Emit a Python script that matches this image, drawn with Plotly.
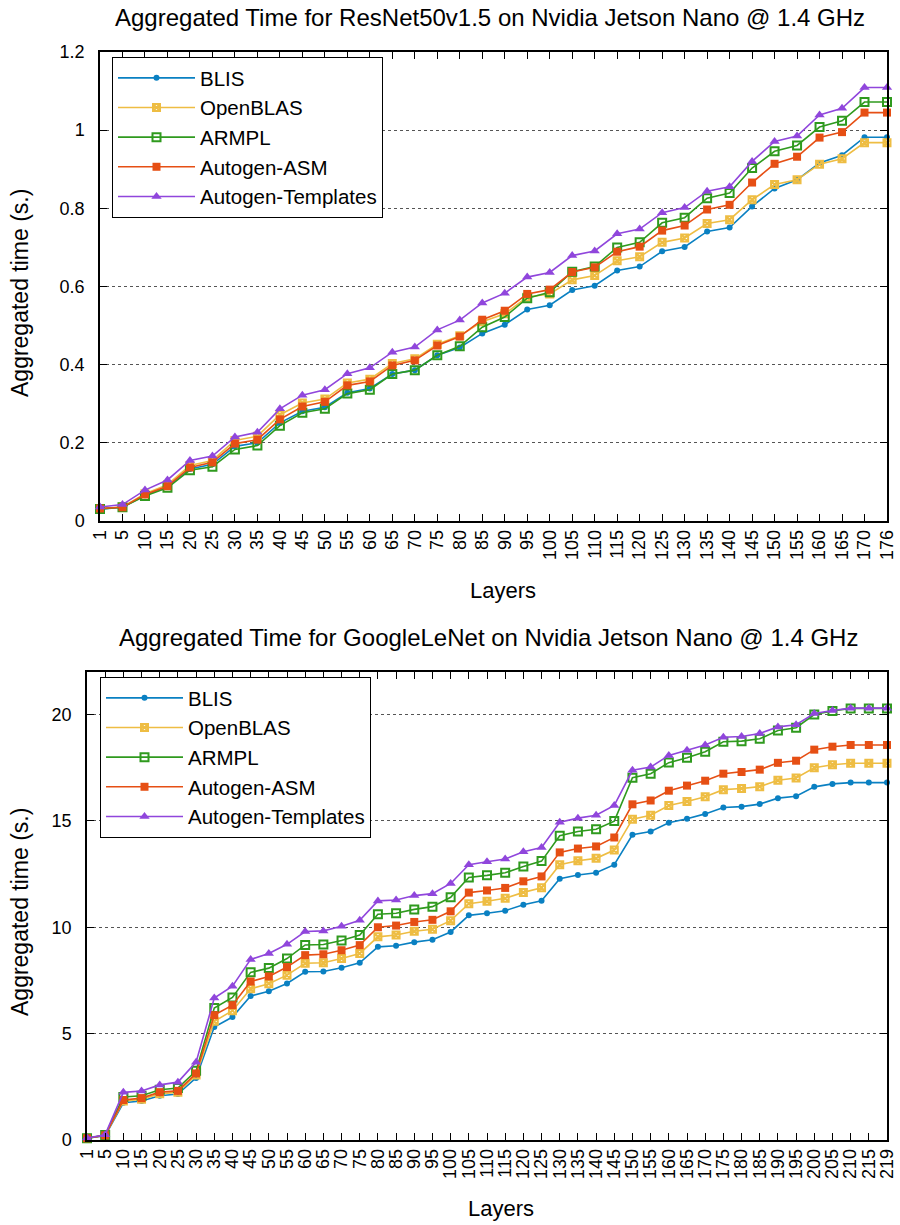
import plotly.graph_objects as go

# ---------------- data ----------------
resnet_layers = ["1"] + [str(v) for v in range(5, 171, 5)] + ["176"]
googlenet_layers = ["1"] + [str(v) for v in range(5, 216, 5)] + ["219"]

series_names = ["BLIS", "OpenBLAS", "ARMPL", "Autogen-ASM", "Autogen-Templates"]

resnet_blis = [0.030, 0.035, 0.066, 0.087, 0.133, 0.145, 0.191, 0.200, 0.251, 0.281, 0.291, 0.328,
               0.339, 0.376, 0.386, 0.424, 0.444, 0.480, 0.502, 0.541, 0.552, 0.591, 0.602, 0.641,
               0.651, 0.690, 0.701, 0.741, 0.751, 0.805, 0.851, 0.873, 0.916, 0.936, 0.982, 0.982]
resnet_openblas = [0.032, 0.036, 0.070, 0.093, 0.142, 0.155, 0.206, 0.217, 0.272, 0.302, 0.312, 0.353,
                   0.363, 0.403, 0.415, 0.452, 0.474, 0.510, 0.530, 0.573, 0.581, 0.617, 0.628, 0.666,
                   0.676, 0.713, 0.724, 0.761, 0.771, 0.822, 0.861, 0.873, 0.913, 0.927, 0.968, 0.968]
resnet_armpl = [0.031, 0.035, 0.064, 0.085, 0.130, 0.139, 0.183, 0.193, 0.244, 0.277, 0.287, 0.326,
                0.336, 0.376, 0.386, 0.424, 0.447, 0.496, 0.522, 0.570, 0.585, 0.638, 0.651, 0.700,
                0.713, 0.763, 0.776, 0.826, 0.839, 0.903, 0.946, 0.961, 1.008, 1.024, 1.072, 1.072]
resnet_asm = [0.032, 0.035, 0.068, 0.089, 0.137, 0.150, 0.198, 0.208, 0.260, 0.293, 0.305, 0.347,
              0.357, 0.398, 0.411, 0.449, 0.472, 0.515, 0.538, 0.581, 0.592, 0.637, 0.649, 0.689,
              0.702, 0.743, 0.756, 0.797, 0.809, 0.866, 0.914, 0.932, 0.981, 0.995, 1.045, 1.045]
resnet_templates = [0.036, 0.042, 0.079, 0.105, 0.155, 0.166, 0.215, 0.227, 0.287, 0.322, 0.336, 0.377,
                    0.392, 0.432, 0.445, 0.489, 0.514, 0.558, 0.583, 0.624, 0.636, 0.679, 0.691, 0.735,
                    0.747, 0.789, 0.802, 0.844, 0.855, 0.920, 0.971, 0.985, 1.039, 1.056, 1.109, 1.109]

googlenet_blis = [0.08, 0.20, 1.75, 1.83, 2.08, 2.16, 2.92, 5.31, 5.78, 6.77,
                  6.99, 7.36, 7.91, 7.92, 8.10, 8.33, 9.08, 9.13, 9.30, 9.41,
                  9.78, 10.56, 10.66, 10.78, 11.06, 11.25, 12.28, 12.46, 12.56, 12.94,
                  14.35, 14.50, 14.91, 15.10, 15.33, 15.63, 15.67, 15.79, 16.07, 16.16,
                  16.60, 16.74, 16.80, 16.80, 16.80]
googlenet_openblas = [0.08, 0.22, 1.83, 1.91, 2.17, 2.25, 3.05, 5.58, 6.08, 7.11,
                      7.35, 7.75, 8.31, 8.33, 8.53, 8.77, 9.55, 9.64, 9.81, 9.91,
                      10.31, 11.11, 11.22, 11.36, 11.64, 11.86, 12.94, 13.13, 13.24, 13.63,
                      15.08, 15.27, 15.72, 15.91, 16.14, 16.47, 16.52, 16.61, 16.91, 17.02,
                      17.50, 17.64, 17.71, 17.71, 17.71]
googlenet_armpl = [0.08, 0.23, 2.02, 2.08, 2.36, 2.44, 3.25, 6.20, 6.70, 7.88,
                   8.08, 8.53, 9.17, 9.19, 9.38, 9.64, 10.61, 10.66, 10.84, 10.97,
                   11.41, 12.34, 12.44, 12.56, 12.86, 13.11, 14.30, 14.50, 14.61, 14.99,
                   17.03, 17.22, 17.74, 17.97, 18.25, 18.72, 18.75, 18.86, 19.25, 19.38,
                   20.00, 20.17, 20.29, 20.29, 20.29]
googlenet_asm = [0.08, 0.22, 1.88, 1.97, 2.25, 2.31, 3.13, 5.87, 6.34, 7.45,
                 7.69, 8.13, 8.69, 8.73, 8.92, 9.16, 10.00, 10.08, 10.25, 10.35,
                 10.75, 11.63, 11.73, 11.85, 12.16, 12.39, 13.52, 13.70, 13.80, 14.22,
                 15.78, 15.96, 16.42, 16.66, 16.89, 17.22, 17.30, 17.41, 17.73, 17.83,
                 18.35, 18.49, 18.57, 18.57, 18.57]
googlenet_templates = [0.09, 0.25, 2.24, 2.30, 2.59, 2.72, 3.66, 6.67, 7.23, 8.49,
                       8.77, 9.20, 9.80, 9.83, 10.05, 10.33, 11.24, 11.28, 11.49, 11.58,
                       12.06, 12.94, 13.08, 13.21, 13.55, 13.75, 14.94, 15.13, 15.27, 15.73,
                       17.38, 17.53, 18.08, 18.32, 18.57, 18.93, 18.97, 19.11, 19.42, 19.52,
                       20.05, 20.19, 20.30, 20.30, 20.30]

# ---------------- styles ----------------
colors = ["#0a80c2", "#eebd43", "#2f9a1e", "#e64f14", "#9046dc"]
symbols = ["circle", "square-x-open", "square-open", "square", "triangle-up"]
sizes = [6, 7, 8, 8, 9]

FONT = "Liberation Sans, Arial, Helvetica, sans-serif"
W, H = 900, 1225

fig = go.Figure()

resnet_series = [resnet_blis, resnet_openblas, resnet_armpl, resnet_asm, resnet_templates]
google_series = [googlenet_blis, googlenet_openblas, googlenet_armpl, googlenet_asm, googlenet_templates]


def marker_for(i):
    if symbols[i].endswith("-open"):
        return dict(symbol=symbols[i], size=sizes[i], color=colors[i],
                    line=dict(color=colors[i], width=2))
    return dict(symbol=symbols[i], size=sizes[i], color=colors[i], line=dict(width=0))


for i, name in enumerate(series_names):
    fig.add_trace(go.Scatter(
        x=resnet_layers, y=resnet_series[i], name=name, mode="lines+markers",
        line=dict(color=colors[i], width=1.6), marker=marker_for(i),
        xaxis="x", yaxis="y", legend="legend", cliponaxis=False))
for i, name in enumerate(series_names):
    fig.add_trace(go.Scatter(
        x=googlenet_layers, y=google_series[i], name=name, mode="lines+markers",
        line=dict(color=colors[i], width=1.6), marker=marker_for(i),
        xaxis="x2", yaxis="y2", legend="legend2", cliponaxis=False))


def px_x(p):
    return p / W


def px_y(p):
    return 1 - p / H


axis_common = dict(
    showline=True, linecolor="black", linewidth=1.5, mirror="ticks",
    ticks="inside", ticklen=7, tickwidth=1, tickcolor="black",
    tickfont=dict(family=FONT, size=18, color="black"),
    zeroline=False, automargin=False,
)

legend_common = dict(
    xanchor="left", yanchor="top", bgcolor="white", bordercolor="black", borderwidth=1,
    font=dict(family=FONT, size=20.5, color="black"), itemwidth=77, tracegroupgap=0,
)

# top plot: x 100-887, y 52-521 ; bottom plot: x 87-887, y 672-1140
fig.update_layout(
    width=W, height=H,
    margin=dict(l=0, r=0, t=0, b=0, autoexpand=False),
    paper_bgcolor="white", plot_bgcolor="white",
    font=dict(family=FONT, color="black"),
    xaxis=dict(domain=[px_x(100), px_x(887)], anchor="y", type="category",
               range=[0, len(resnet_layers) - 1], tickangle=-90, showgrid=False,
               dtick=1, **axis_common),
    yaxis=dict(domain=[px_y(521), px_y(52)], anchor="x", range=[0, 1.2], dtick=0.2,
               showgrid=True, gridcolor="#555555", griddash="dot", gridwidth=1,
               ticklabelstandoff=10, **axis_common),
    xaxis2=dict(domain=[px_x(87), px_x(887)], anchor="y2", type="category",
                range=[0, len(googlenet_layers) - 1], tickangle=-90, showgrid=False,
                dtick=1, **axis_common),
    yaxis2=dict(domain=[px_y(1140), px_y(672)], anchor="x2", range=[0, 22],
                tickvals=[0, 5, 10, 15, 20],
                showgrid=True, gridcolor="#555555", griddash="dot", gridwidth=1,
                ticklabelstandoff=10, **axis_common),
    legend=dict(x=px_x(112), y=px_y(57), **legend_common),
    legend2=dict(x=px_x(100), y=px_y(677), **legend_common),
    showlegend=True,
)

title_font = dict(family=FONT, size=24, color="black")
label_font = dict(family=FONT, size=22, color="black")
ytitle_font = dict(family=FONT, size=23, color="black")
annotations = [
    dict(text="Aggregated Time for ResNet50v1.5 on Nvidia Jetson Nano @ 1.4 GHz",
         x=px_x(490), y=px_y(18), xref="paper", yref="paper", showarrow=False,
         xanchor="center", yanchor="middle", font=title_font),
    dict(text="Aggregated Time for GoogleLeNet on Nvidia Jetson Nano @ 1.4 GHz",
         x=px_x(488), y=px_y(637), xref="paper", yref="paper", showarrow=False,
         xanchor="center", yanchor="middle", font=title_font),
    dict(text="Layers", x=px_x(503), y=px_y(590), xref="paper", yref="paper",
         showarrow=False, xanchor="center", yanchor="middle", font=label_font),
    dict(text="Layers", x=px_x(501), y=px_y(1208), xref="paper", yref="paper",
         showarrow=False, xanchor="center", yanchor="middle", font=label_font),
    dict(text="Aggregated time (s.)", x=px_x(20), y=px_y(293), xref="paper", yref="paper",
         showarrow=False, textangle=-90, xanchor="center", yanchor="middle", font=ytitle_font),
    dict(text="Aggregated time (s.)", x=px_x(20), y=px_y(912), xref="paper", yref="paper",
         showarrow=False, textangle=-90, xanchor="center", yanchor="middle", font=ytitle_font),
]
fig.update_layout(annotations=annotations)

fig.write_html("out.html")
